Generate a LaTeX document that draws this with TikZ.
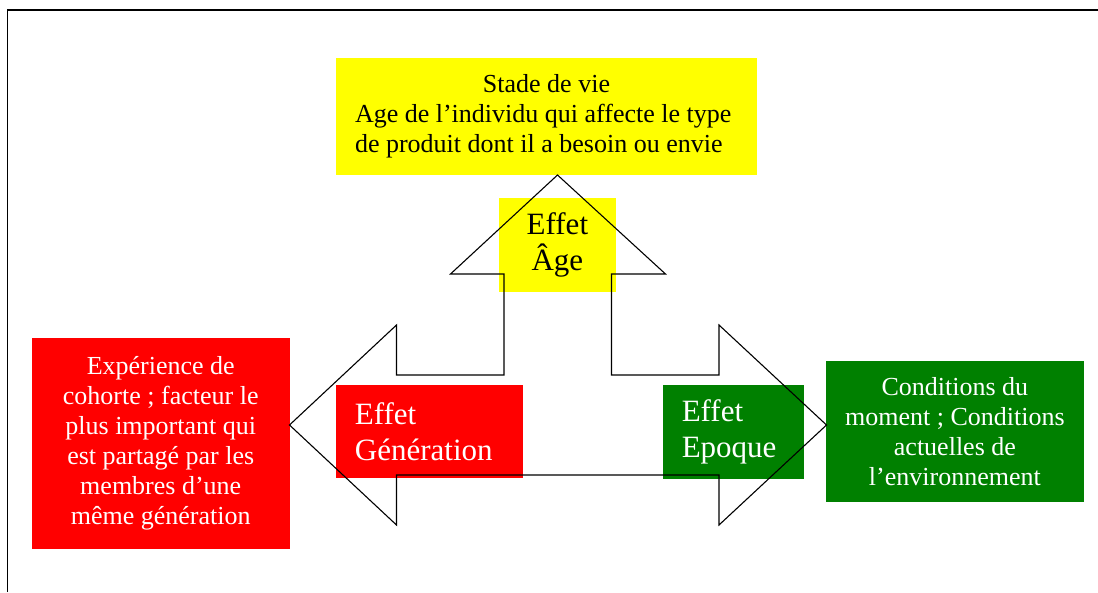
\documentclass[tikz,border=0pt]{standalone}
\usepackage{fontspec}
\setmainfont{Liberation Serif}
\definecolor{jaune}{RGB}{255,255,0}
\definecolor{rouge}{RGB}{255,0,0}
\definecolor{vert}{RGB}{0,128,0}

\begin{document}
\begin{tikzpicture}[x=1pt, y=-1pt,
  txtbox/.style={inner sep=0pt, align=center, font=\fontsize{26}{30}\selectfont},
  effetbox/.style={inner ysep=0pt, font=\fontsize{31}{36.6}\selectfont}]
  \useasboundingbox (0,0) rectangle (1098,592);
  %\draw[help lines, step=50] (0,0) grid (1098,592);
  \draw [line width=1.7pt] (7.5,592) -- (7.5,10) -- (1098,10);

  % boxes
  \node [txtbox, fill=jaune, inner xsep=19, text width=383, align=flush left, minimum height=117] (stade) at (546.5,116.5)
    {\spaceskip=0pt \xspaceskip=0pt {\centering Stade de vie\par}\raggedright Age de l'individu qui affecte le type\\de produit dont il a besoin ou envie};
  \node [txtbox, fill=rouge, text=white, minimum width=257.5, minimum height=211] (cohorte) at (160.75,443.5)
    {Expérience de\\cohorte ; facteur le\\plus important qui\\est partagé par les\\membres d'une\\même génération};
  \node [txtbox, fill=vert, text=white, minimum width=258.3, minimum height=141] (moment) at (954.9,431.3)
    {Conditions du\\moment ; Conditions\\actuelles de\\l'environnement};

  \node [effetbox, fill=jaune, inner xsep=0pt, align=center, minimum width=116.7, minimum height=93.7] (age) at (557.4,245) {Effet\\Âge};
  \node [effetbox, fill=rouge, text=white, inner xsep=19, text width=148.7, align=left, minimum height=93.3] (generation) at (429.3,431.7) {Effet\\Génération};
  \node [effetbox, fill=vert, text=white, inner xsep=19, text width=103.3, align=left, minimum height=94] (epoque) at (733.4,432) {Effet\\Epoque};

  % three-way arrow
  \draw [line width=1.1pt] (557.5,175) -- (665.5,274) -- (611.5,274) -- (611.5,375) -- (719,375) -- (719,325)
    -- (826.5,425) -- (719,525) -- (719,475) -- (396.5,475) -- (396.5,525) -- (289.5,425)
    -- (396.5,325) -- (396.5,375) -- (504,375) -- (504,274) -- (450.5,274) -- cycle;

\end{tikzpicture}
\end{document}
